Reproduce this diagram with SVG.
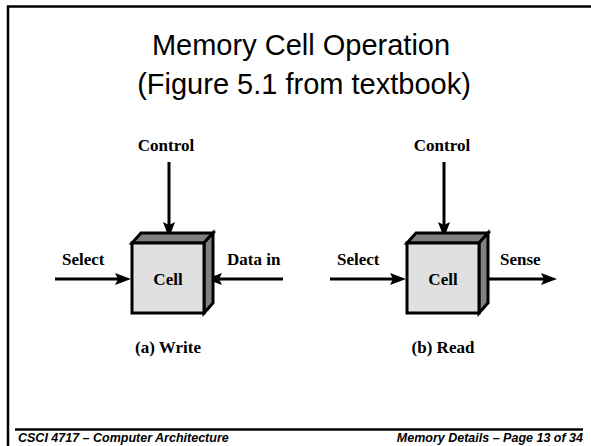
<svg xmlns="http://www.w3.org/2000/svg" width="591" height="446" viewBox="0 0 591 446">
  <style>
    .title { font-family: "Liberation Sans", Arial, sans-serif; font-size: 29px; fill: #000; text-anchor: middle; }
    .lbl { font-family: "Liberation Serif", "Times New Roman", serif; font-weight: bold; font-size: 17px; fill: #000; }
    .mid { text-anchor: middle; }
    .foot { font-family: "Liberation Sans", Arial, sans-serif; font-weight: bold; font-style: italic; font-size: 12.5px; fill: #000; }
    .frame { stroke: #000; stroke-width: 2.5; fill: none; }
    .front { fill: #e0e0e0; stroke: #000; stroke-width: 3; stroke-linejoin: miter; }
    .shade { fill: #808080; stroke: #000; stroke-width: 3; stroke-linejoin: miter; }
    .wire { stroke: #000; stroke-width: 3; fill: none; marker-end: url(#arr); }
  </style>
  <defs>
    <marker id="arr" markerUnits="userSpaceOnUse" markerWidth="17" markerHeight="13" refX="8" refY="6.5" orient="auto">
      <path d="M0,0.5 L16,6.5 L0,12.5 L3,6.5 z" fill="#000"/>
    </marker>
  </defs>
  <rect width="591" height="446" fill="#fff"/>
  <g id="frame">
    <path class="frame" d="M8,446 V6.5 H591"/>
    <line x1="15" y1="429.5" x2="583" y2="429.5" stroke="#000" stroke-width="2.5"/>
  </g>
  <g id="title">
    <text class="title" x="301" y="55">Memory Cell Operation</text>
    <text class="title" x="304" y="94">(Figure 5.1 from textbook)</text>
  </g>
  <g id="connectors">
    <line class="wire" x1="169" y1="162" x2="169" y2="230"/>
    <line class="wire" x1="55" y1="279" x2="123" y2="279"/>
    <line class="wire" x1="283" y1="279" x2="214" y2="279"/>
    <line class="wire" x1="444" y1="162" x2="444" y2="230"/>
    <line class="wire" x1="330" y1="279" x2="398" y2="279"/>
    <line class="wire" x1="479" y1="279" x2="549" y2="279"/>
  </g>
  <g id="cell-write">
    <polygon class="shade" points="132,243 141,233 213,233 204,243"/>
    <polygon class="shade" points="204,243 213,233 213,303 204,313"/>
    <rect class="front" x="132" y="243" width="72" height="70"/>
    <text class="lbl mid" x="168" y="285">Cell</text>
  </g>
  <g id="cell-read">
    <polygon class="shade" points="407,243 416,233 488,233 479,243"/>
    <polygon class="shade" points="479,243 488,233 488,303 479,313"/>
    <rect class="front" x="407" y="243" width="72" height="70"/>
    <text class="lbl mid" x="443" y="285">Cell</text>
  </g>
  <g id="labels-write">
    <text class="lbl mid" x="166" y="151">Control</text>
    <text class="lbl" x="62" y="265">Select</text>
    <text class="lbl" x="227" y="265">Data in</text>
    <text class="lbl mid" x="168" y="353">(a) Write</text>
  </g>
  <g id="labels-read">
    <text class="lbl mid" x="442" y="151">Control</text>
    <text class="lbl" x="337" y="265">Select</text>
    <text class="lbl" x="500" y="265">Sense</text>
    <text class="lbl mid" x="443" y="353">(b) Read</text>
  </g>
  <g id="footer">
    <text class="foot" x="18" y="442">CSCI 4717 – Computer Architecture</text>
    <text class="foot" x="583" y="442" text-anchor="end">Memory Details – Page 13 of 34</text>
  </g>
</svg>
